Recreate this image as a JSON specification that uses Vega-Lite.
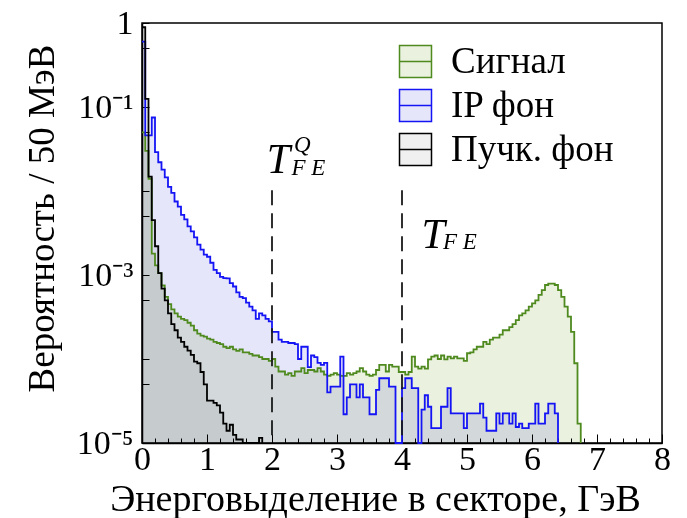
{
"$schema": "https://vega.github.io/schema/vega-lite/v6.json",
"width": 520, "height": 420,
"autosize": {"type": "none"},
"padding": {"left": 142, "top": 23, "right": 25, "bottom": 75},
"background": "white",
"config": {"view": {"stroke": "#000", "strokeWidth": 1.5}, "font": "Liberation Serif"},
"resolve": {"axis": {"x": "independent"}},
"datasets": {
"hist": [
{"s":"Сигнал","E":0,"v":0.05},{"s":"Сигнал","E":0.05,"v":0.03},{"s":"Сигнал","E":0.1,"v":0.014},{"s":"Сигнал","E":0.15,"v":0.0018},{"s":"Сигнал","E":0.2,"v":0.0013},{"s":"Сигнал","E":0.25,"v":0.00105},{"s":"Сигнал","E":0.3,"v":0.00075},{"s":"Сигнал","E":0.35,"v":0.00055},{"s":"Сигнал","E":0.4,"v":0.00045},{"s":"Сигнал","E":0.45,"v":0.00039},{"s":"Сигнал","E":0.5,"v":0.00035},{"s":"Сигнал","E":0.55,"v":0.00032},{"s":"Сигнал","E":0.6,"v":0.0003},{"s":"Сигнал","E":0.65,"v":0.00029},{"s":"Сигнал","E":0.7,"v":0.00027},{"s":"Сигнал","E":0.75,"v":0.00025},{"s":"Сигнал","E":0.8,"v":0.00022},{"s":"Сигнал","E":0.85,"v":0.0002},{"s":"Сигнал","E":0.9,"v":0.00019},{"s":"Сигнал","E":0.95,"v":0.000185},
{"s":"Сигнал","E":1,"v":0.000175},{"s":"Сигнал","E":1.05,"v":0.00017},{"s":"Сигнал","E":1.1,"v":0.00016},{"s":"Сигнал","E":1.15,"v":0.000155},{"s":"Сигнал","E":1.2,"v":0.00015},{"s":"Сигнал","E":1.25,"v":0.00014},{"s":"Сигнал","E":1.3,"v":0.000135},{"s":"Сигнал","E":1.35,"v":0.00014},{"s":"Сигнал","E":1.4,"v":0.00013},{"s":"Сигнал","E":1.45,"v":0.000125},{"s":"Сигнал","E":1.5,"v":0.00013},{"s":"Сигнал","E":1.55,"v":0.00012},{"s":"Сигнал","E":1.6,"v":0.00012},{"s":"Сигнал","E":1.65,"v":0.000115},{"s":"Сигнал","E":1.7,"v":0.00011},{"s":"Сигнал","E":1.75,"v":0.00011},{"s":"Сигнал","E":1.8,"v":0.000105},{"s":"Сигнал","E":1.85,"v":0.0001},{"s":"Сигнал","E":1.9,"v":0.0001},{"s":"Сигнал","E":1.95,"v":0.000095},
{"s":"Сигнал","E":2,"v":0.0001},{"s":"Сигнал","E":2.05,"v":0.000081},{"s":"Сигнал","E":2.1,"v":0.000071},{"s":"Сигнал","E":2.15,"v":0.000071},{"s":"Сигнал","E":2.2,"v":0.000065},{"s":"Сигнал","E":2.25,"v":0.000068},{"s":"Сигнал","E":2.3,"v":0.000063},{"s":"Сигнал","E":2.35,"v":0.000071},{"s":"Сигнал","E":2.4,"v":0.000071},{"s":"Сигнал","E":2.45,"v":0.000078},{"s":"Сигнал","E":2.5,"v":0.000068},{"s":"Сигнал","E":2.55,"v":0.000074},{"s":"Сигнал","E":2.6,"v":0.000074},{"s":"Сигнал","E":2.65,"v":0.000071},{"s":"Сигнал","E":2.7,"v":0.000078},{"s":"Сигнал","E":2.75,"v":0.000071},{"s":"Сигнал","E":2.8,"v":0.000065},{"s":"Сигнал","E":2.85,"v":0.000063},{"s":"Сигнал","E":2.9,"v":0.000065},{"s":"Сигнал","E":2.95,"v":0.000068},
{"s":"Сигнал","E":3,"v":0.000065},{"s":"Сигнал","E":3.05,"v":0.000063},{"s":"Сигнал","E":3.1,"v":0.000063},{"s":"Сигнал","E":3.15,"v":0.000068},{"s":"Сигнал","E":3.2,"v":0.000065},{"s":"Сигнал","E":3.25,"v":0.000068},{"s":"Сигнал","E":3.3,"v":0.000071},{"s":"Сигнал","E":3.35,"v":0.000078},{"s":"Сигнал","E":3.4,"v":0.000071},{"s":"Сигнал","E":3.45,"v":0.000065},{"s":"Сигнал","E":3.5,"v":0.000063},{"s":"Сигнал","E":3.55,"v":0.000065},{"s":"Сигнал","E":3.6,"v":0.000074},{"s":"Сигнал","E":3.65,"v":0.000085},{"s":"Сигнал","E":3.7,"v":0.000085},{"s":"Сигнал","E":3.75,"v":0.000071},{"s":"Сигнал","E":3.8,"v":0.000085},{"s":"Сигнал","E":3.85,"v":0.000081},{"s":"Сигнал","E":3.9,"v":0.000081},{"s":"Сигнал","E":3.95,"v":0.00007},
{"s":"Сигнал","E":4,"v":0.00007},{"s":"Сигнал","E":4.05,"v":0.000065},{"s":"Сигнал","E":4.1,"v":0.00007},{"s":"Сигнал","E":4.15,"v":0.000107},{"s":"Сигнал","E":4.2,"v":0.000081},{"s":"Сигнал","E":4.25,"v":0.000077},{"s":"Сигнал","E":4.3,"v":0.000081},{"s":"Сигнал","E":4.35,"v":0.000077},{"s":"Сигнал","E":4.4,"v":0.000099},{"s":"Сигнал","E":4.45,"v":0.000107},{"s":"Сигнал","E":4.5,"v":0.00011},{"s":"Сигнал","E":4.55,"v":0.0001},{"s":"Сигнал","E":4.6,"v":0.00011},{"s":"Сигнал","E":4.65,"v":0.000099},{"s":"Сигнал","E":4.7,"v":0.000107},{"s":"Сигнал","E":4.75,"v":0.000102},{"s":"Сигнал","E":4.8,"v":0.000107},{"s":"Сигнал","E":4.85,"v":0.000102},{"s":"Сигнал","E":4.9,"v":0.000102},{"s":"Сигнал","E":4.95,"v":0.000095},
{"s":"Сигнал","E":5,"v":0.000117},{"s":"Сигнал","E":5.05,"v":0.00012},{"s":"Сигнал","E":5.1,"v":0.00013},{"s":"Сигнал","E":5.15,"v":0.00014},{"s":"Сигнал","E":5.2,"v":0.00014},{"s":"Сигнал","E":5.25,"v":0.00016},{"s":"Сигнал","E":5.3,"v":0.00015},{"s":"Сигнал","E":5.35,"v":0.00017},{"s":"Сигнал","E":5.4,"v":0.00018},{"s":"Сигнал","E":5.45,"v":0.00018},{"s":"Сигнал","E":5.5,"v":0.000195},{"s":"Сигнал","E":5.55,"v":0.00022},{"s":"Сигнал","E":5.6,"v":0.00022},{"s":"Сигнал","E":5.65,"v":0.00024},{"s":"Сигнал","E":5.7,"v":0.00026},{"s":"Сигнал","E":5.75,"v":0.00029},{"s":"Сигнал","E":5.8,"v":0.00033},{"s":"Сигнал","E":5.85,"v":0.00035},{"s":"Сигнал","E":5.9,"v":0.00038},{"s":"Сигнал","E":5.95,"v":0.00042},
{"s":"Сигнал","E":6,"v":0.00046},{"s":"Сигнал","E":6.05,"v":0.0005},{"s":"Сигнал","E":6.1,"v":0.00058},{"s":"Сигнал","E":6.15,"v":0.00066},{"s":"Сигнал","E":6.2,"v":0.00076},{"s":"Сигнал","E":6.25,"v":0.00079},{"s":"Сигнал","E":6.3,"v":0.00079},{"s":"Сигнал","E":6.35,"v":0.00076},{"s":"Сигнал","E":6.4,"v":0.00066},{"s":"Сигнал","E":6.45,"v":0.00055},{"s":"Сигнал","E":6.5,"v":0.00042},{"s":"Сигнал","E":6.55,"v":0.00032},{"s":"Сигнал","E":6.6,"v":0.00021},{"s":"Сигнал","E":6.65,"v":0.000089},{"s":"Сигнал","E":6.7,"v":0.000017},{"s":"Сигнал","E":6.75,"v":0.00001},
{"s":"IP фон","E":0,"v":0.6},{"s":"IP фон","E":0.05,"v":0.046},{"s":"IP фон","E":0.1,"v":0.046},{"s":"IP фон","E":0.15,"v":0.075},{"s":"IP фон","E":0.2,"v":0.029},{"s":"IP фон","E":0.25,"v":0.022},{"s":"IP фон","E":0.3,"v":0.018},{"s":"IP фон","E":0.35,"v":0.0145},{"s":"IP фон","E":0.4,"v":0.0112},{"s":"IP фон","E":0.45,"v":0.0095},{"s":"IP фон","E":0.5,"v":0.0075},{"s":"IP фон","E":0.55,"v":0.0065},{"s":"IP фон","E":0.6,"v":0.0052},{"s":"IP фон","E":0.65,"v":0.0046},{"s":"IP фон","E":0.7,"v":0.0038},{"s":"IP фон","E":0.75,"v":0.0033},{"s":"IP фон","E":0.8,"v":0.0028},{"s":"IP фон","E":0.85,"v":0.0023},{"s":"IP фон","E":0.9,"v":0.002},{"s":"IP фон","E":0.95,"v":0.00175},
{"s":"IP фон","E":1,"v":0.00165},{"s":"IP фон","E":1.05,"v":0.0014},{"s":"IP фон","E":1.1,"v":0.00115},{"s":"IP фон","E":1.15,"v":0.00105},{"s":"IP фон","E":1.2,"v":0.00095},{"s":"IP фон","E":1.25,"v":0.00092},{"s":"IP фон","E":1.3,"v":0.00091},{"s":"IP фон","E":1.35,"v":0.0008},{"s":"IP фон","E":1.4,"v":0.00073},{"s":"IP фон","E":1.45,"v":0.00062},{"s":"IP фон","E":1.5,"v":0.00055},{"s":"IP фон","E":1.55,"v":0.00053},{"s":"IP фон","E":1.6,"v":0.00047},{"s":"IP фон","E":1.65,"v":0.00042},{"s":"IP фон","E":1.7,"v":0.00038},{"s":"IP фон","E":1.75,"v":0.0003},{"s":"IP фон","E":1.8,"v":0.00035},{"s":"IP фон","E":1.85,"v":0.00033},{"s":"IP фон","E":1.9,"v":0.0003},{"s":"IP фон","E":1.95,"v":0.00028},
{"s":"IP фон","E":2,"v":0.00021},{"s":"IP фон","E":2.05,"v":0.00021},{"s":"IP фон","E":2.1,"v":0.00017},{"s":"IP фон","E":2.15,"v":0.00016},{"s":"IP фон","E":2.2,"v":0.00016},{"s":"IP фон","E":2.25,"v":0.000155},{"s":"IP фон","E":2.3,"v":0.000155},{"s":"IP фон","E":2.35,"v":0.00015},{"s":"IP фон","E":2.4,"v":0.0001},{"s":"IP фон","E":2.45,"v":0.00014},{"s":"IP фон","E":2.5,"v":0.00014},{"s":"IP фон","E":2.55,"v":0.00008},{"s":"IP фон","E":2.6,"v":0.00011},{"s":"IP фон","E":2.65,"v":0.000105},{"s":"IP фон","E":2.7,"v":0.00009},{"s":"IP фон","E":2.75,"v":0.000085},{"s":"IP фон","E":2.8,"v":0.00009},{"s":"IP фон","E":2.85,"v":0.00004},{"s":"IP фон","E":2.9,"v":0.000047},{"s":"IP фон","E":2.95,"v":0.000047},
{"s":"IP фон","E":3,"v":0.000047},{"s":"IP фон","E":3.05,"v":0.000107},{"s":"IP фон","E":3.1,"v":0.000022},{"s":"IP фон","E":3.15,"v":0.000035},{"s":"IP фон","E":3.2,"v":0.00005},{"s":"IP фон","E":3.25,"v":0.00005},{"s":"IP фон","E":3.3,"v":0.000035},{"s":"IP фон","E":3.35,"v":0.00005},{"s":"IP фон","E":3.4,"v":0.000035},{"s":"IP фон","E":3.45,"v":0.000035},{"s":"IP фон","E":3.5,"v":0.000022},{"s":"IP фон","E":3.55,"v":0.000022},{"s":"IP фон","E":3.6,"v":0.000043},{"s":"IP фон","E":3.65,"v":0.000059},{"s":"IP фон","E":3.7,"v":0.000059},{"s":"IP фон","E":3.75,"v":0.000059},{"s":"IP фон","E":3.8,"v":0.000047},{"s":"IP фон","E":3.85,"v":0.000047},{"s":"IP фон","E":3.9,"v":0.00001},{"s":"IP фон","E":3.95,"v":0.00001},
{"s":"IP фон","E":4,"v":0.000045},{"s":"IP фон","E":4.05,"v":0.000059},{"s":"IP фон","E":4.1,"v":0.000059},{"s":"IP фон","E":4.15,"v":0.000045},{"s":"IP фон","E":4.2,"v":0.000045},{"s":"IP фон","E":4.25,"v":0.00001},{"s":"IP фон","E":4.3,"v":0.000025},{"s":"IP фон","E":4.35,"v":0.000037},{"s":"IP фон","E":4.4,"v":0.000027},{"s":"IP фон","E":4.45,"v":0.000015},{"s":"IP фон","E":4.5,"v":0.000015},{"s":"IP фон","E":4.55,"v":0.000015},{"s":"IP фон","E":4.6,"v":0.000027},{"s":"IP фон","E":4.65,"v":0.000027},{"s":"IP фон","E":4.7,"v":0.000045},{"s":"IP фон","E":4.75,"v":0.0000225},{"s":"IP фон","E":4.8,"v":0.0000225},{"s":"IP фон","E":4.85,"v":0.0000225},{"s":"IP фон","E":4.9,"v":0.0000225},{"s":"IP фон","E":4.95,"v":0.000015},
{"s":"IP фон","E":5,"v":0.0000225},{"s":"IP фон","E":5.05,"v":0.0000225},{"s":"IP фон","E":5.1,"v":0.0000225},{"s":"IP фон","E":5.15,"v":0.0000225},{"s":"IP фон","E":5.2,"v":0.0000295},{"s":"IP фон","E":5.25,"v":0.00002},{"s":"IP фон","E":5.3,"v":0.000014},{"s":"IP фон","E":5.35,"v":0.000014},{"s":"IP фон","E":5.4,"v":0.000014},{"s":"IP фон","E":5.45,"v":0.0000225},{"s":"IP фон","E":5.5,"v":0.000017},{"s":"IP фон","E":5.55,"v":0.0000225},{"s":"IP фон","E":5.6,"v":0.0000225},{"s":"IP фон","E":5.65,"v":0.000017},{"s":"IP фон","E":5.7,"v":0.0000225},{"s":"IP фон","E":5.75,"v":0.0000155},{"s":"IP фон","E":5.8,"v":0.000017},{"s":"IP фон","E":5.85,"v":0.000015},{"s":"IP фон","E":5.9,"v":0.000015},{"s":"IP фон","E":5.95,"v":0.000017},
{"s":"IP фон","E":6,"v":0.000017},{"s":"IP фон","E":6.05,"v":0.0000295},{"s":"IP фон","E":6.1,"v":0.000017},{"s":"IP фон","E":6.15,"v":0.000017},{"s":"IP фон","E":6.2,"v":0.0000225},{"s":"IP фон","E":6.25,"v":0.0000295},{"s":"IP фон","E":6.3,"v":0.0000295},{"s":"IP фон","E":6.35,"v":0.0000225},{"s":"IP фон","E":6.4,"v":0.00001},
{"s":"Пучк. фон","E":0,"v":0.89},{"s":"Пучк. фон","E":0.05,"v":0.125},{"s":"Пучк. фон","E":0.1,"v":0.0148},{"s":"Пучк. фон","E":0.15,"v":0.0045},{"s":"Пучк. фон","E":0.2,"v":0.0022},{"s":"Пучк. фон","E":0.25,"v":0.00105},{"s":"Пучк. фон","E":0.3,"v":0.00069},{"s":"Пучк. фон","E":0.35,"v":0.0005},{"s":"Пучк. фон","E":0.4,"v":0.00035},{"s":"Пучк. фон","E":0.45,"v":0.00026},{"s":"Пучк. фон","E":0.5,"v":0.00022},{"s":"Пучк. фон","E":0.55,"v":0.00018},{"s":"Пучк. фон","E":0.6,"v":0.00016},{"s":"Пучк. фон","E":0.65,"v":0.00014},{"s":"Пучк. фон","E":0.7,"v":0.000126},{"s":"Пучк. фон","E":0.75,"v":0.000112},{"s":"Пучк. фон","E":0.8,"v":0.000093},{"s":"Пучк. фон","E":0.85,"v":0.000089},{"s":"Пучк. фон","E":0.9,"v":0.00007},{"s":"Пучк. фон","E":0.95,"v":0.00005},
{"s":"Пучк. фон","E":1,"v":0.000032},{"s":"Пучк. фон","E":1.05,"v":0.000032},{"s":"Пучк. фон","E":1.1,"v":0.00003},{"s":"Пучк. фон","E":1.15,"v":0.000028},{"s":"Пучк. фон","E":1.2,"v":0.000023},{"s":"Пучк. фон","E":1.25,"v":0.000017},{"s":"Пучк. фон","E":1.3,"v":0.000014},{"s":"Пучк. фон","E":1.35,"v":0.0000165},{"s":"Пучк. фон","E":1.4,"v":0.0000125},{"s":"Пучк. фон","E":1.45,"v":0.000011},{"s":"Пучк. фон","E":1.5,"v":0.000011},{"s":"Пучк. фон","E":1.55,"v":0.00001},{"s":"Пучк. фон","E":1.6,"v":0.00001},{"s":"Пучк. фон","E":1.65,"v":0.00001},{"s":"Пучк. фон","E":1.7,"v":0.00001},{"s":"Пучк. фон","E":1.75,"v":0.00001},{"s":"Пучк. фон","E":1.8,"v":0.0000115},{"s":"Пучк. фон","E":1.85,"v":0.00001}
],
"thr": [{"E":2,"top":0.0102},{"E":4,"top":0.0102}],
"bigT": [{"E":1.92,"v":0.0164,"t":"T"},{"E":4.3,"v":0.0021,"t":"T"}],
"small": [{"E":2.34,"v":0.029,"t":"Q"},{"E":2.3,"v":0.0155,"t":"F E"},{"E":4.63,"v":0.00205,"t":"F E"}]
},
"layer": [
{"data": {"name": "hist"},
 "mark": {"type": "area", "interpolate": "step-after", "blend": "multiply"},
 "encoding": {
  "x": {"field": "E", "type": "quantitative", "scale": {"domain": [0, 8], "nice": false, "zero": false},
   "axis": {"orient": "bottom", "title": "Энерговыделение в секторе, ГэВ", "values": [0,1,2,3,4,5,6,7,8], "format": "d",
    "labelOverlap": false, "labelFlush": false,
    "tickSize": -9, "tickColor": "#000", "domainColor": "#000", "domainWidth": 1.5, "grid": false,
    "labelFont": "Liberation Serif", "labelFontSize": 34, "labelColor": "#000", "labelPadding": 8,
    "titleFont": "Liberation Serif", "titleFontSize": 38, "titleFontWeight": "normal", "titleColor": "#000",
    "titleX": 233, "titleY": 67, "titleBaseline": "alphabetic"}},
  "y": {"field": "v", "type": "quantitative", "scale": {"type": "log", "domain": [0.00001, 1], "clamp": true, "nice": false},
   "axis": {"title": "Вероятность / 50 МэВ", "values": [1,0.5,0.1,0.05,0.01,0.005,0.001,0.0005,0.0001,0.00005,0.00001],
    "labelExpr": "datum.value == 1 ? '1' : datum.value == 0.1 ? '10⁻¹' : datum.value == 0.001 ? '10⁻³' : datum.value == 0.00001 ? '10⁻⁵' : ''",
    "labelOverlap": false, "labelFlush": false,
    "tickSize": -7, "tickColor": "#000", "domainColor": "#000", "domainWidth": 1.5, "grid": false,
    "labelFont": "Liberation Serif", "labelFontSize": 34, "labelColor": "#000", "labelPadding": 16,
    "titleFont": "Liberation Serif", "titleFontSize": 37, "titleFontWeight": "normal", "titleColor": "#000",
    "titleAngle": -90, "titleX": -89, "titleY": 195, "titleBaseline": "alphabetic", "titleAlign": "center"}},
  "y2": {"datum": 0.00001},
  "fill": {"field": "s", "type": "nominal",
   "scale": {"domain": ["Сигнал", "IP фон", "Пучк. фон"], "range": ["#eaf1df", "#e6e6fb", "#f0f0f0"]},
   "legend": {"title": null, "orient": "none", "legendX": 255, "legendY": 20, "padding": 0,
    "symbolType": "M-1,-1H1V1H-1ZM-1,0H1", "symbolSize": 1024, "symbolStrokeWidth": 1.5,
    "labelFont": "Liberation Serif", "labelFontSize": 37, "labelColor": "#000", "labelOffset": 17, "labelLimit": 400, "rowPadding": 5}}
 }},
{"data": {"name": "hist"},
 "mark": {"type": "line", "interpolate": "step-after", "strokeWidth": 1.8},
 "encoding": {
  "x": {"field": "E", "type": "quantitative", "axis": null},
  "y": {"field": "v", "type": "quantitative"},
  "stroke": {"field": "s", "type": "nominal",
   "scale": {"domain": ["Сигнал", "IP фон", "Пучк. фон"], "range": ["#4f8a1f", "#1414f5", "#000000"]},
   "legend": {"title": null, "orient": "none", "legendX": 255, "legendY": 20, "padding": 0,
    "symbolType": "M-1,-1H1V1H-1ZM-1,0H1", "symbolSize": 1024, "symbolStrokeWidth": 1.5,
    "labelFont": "Liberation Serif", "labelFontSize": 37, "labelColor": "#000", "labelOffset": 17, "labelLimit": 400, "rowPadding": 5}}
 }},
{"data": {"name": "thr"},
 "mark": {"type": "rule", "strokeDash": [15, 8], "strokeWidth": 1.8, "color": "#1a1a1a"},
 "encoding": {
  "x": {"field": "E", "type": "quantitative",
   "axis": {"orient": "bottom", "title": null, "labels": false, "domain": false, "grid": false,
    "values": [0.2,0.4,0.6,0.8,1.2,1.4,1.6,1.8,2.2,2.4,2.6,2.8,3.2,3.4,3.6,3.8,4.2,4.4,4.6,4.8,5.2,5.4,5.6,5.8,6.2,6.4,6.6,6.8,7.2,7.4,7.6,7.8],
    "tickSize": -5, "tickColor": "#000"}},
  "y": {"field": "top", "type": "quantitative"},
  "y2": {"datum": 0.00001}
 }},
{"data": {"name": "bigT"},
 "mark": {"type": "text", "font": "Liberation Serif", "fontStyle": "italic", "fontSize": 42, "align": "left", "baseline": "alphabetic", "color": "#000"},
 "encoding": {
  "x": {"field": "E", "type": "quantitative", "axis": null},
  "y": {"field": "v", "type": "quantitative"},
  "text": {"field": "t"}
 }},
{"data": {"name": "small"},
 "mark": {"type": "text", "font": "Liberation Serif", "fontStyle": "italic", "fontSize": 23, "align": "left", "baseline": "alphabetic", "color": "#000"},
 "encoding": {
  "x": {"field": "E", "type": "quantitative", "axis": null},
  "y": {"field": "v", "type": "quantitative"},
  "text": {"field": "t"}
 }}
]
}
